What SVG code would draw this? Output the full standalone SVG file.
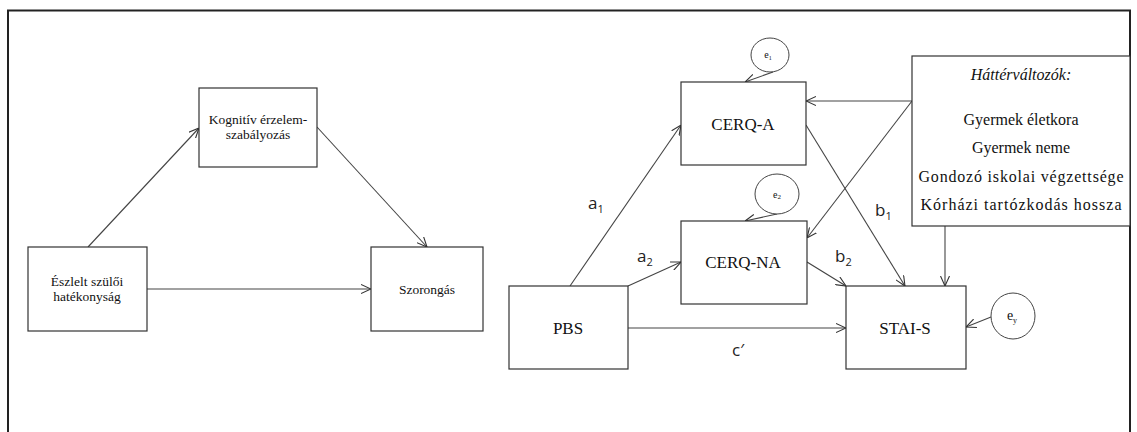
<svg xmlns="http://www.w3.org/2000/svg" width="1137" height="432" viewBox="0 0 1137 432">
  <defs>
    <marker id="arr" viewBox="0 0 10 10" refX="10" refY="5" markerWidth="10" markerHeight="10" markerUnits="userSpaceOnUse" orient="auto">
      <path d="M0,0.5 L10,5 L0,9.5" fill="none" stroke="#333" stroke-width="1.1"/>
    </marker>
  </defs>
  <style>
    .box { fill: #fff; stroke: #333; stroke-width: 1.2; }
    .err { fill: #fff; stroke: #444; stroke-width: 1; }
    .edge { fill: none; stroke: #444; stroke-width: 1.1; marker-end: url(#arr); }
    .t { fill: #111; text-anchor: middle; }
    .s { font-size: 13.5px; }
    .m { font-size: 17px; }
    .h { font-size: 16px; }
    .lab { font-size: 17px; fill: #222; }
    .sub { font-size: 11px; }
  </style>

  <rect x="0" y="0" width="1137" height="432" fill="#fff"/>
  <!-- outer frame -->
  <rect x="8" y="10.5" width="1122" height="440" fill="none" stroke="#222" stroke-width="2"/>

  <!-- connectors -->
  <g id="connectors">
    <!-- simple mediation model -->
    <line class="edge" x1="88" y1="247" x2="199" y2="128"/>
    <line class="edge" x1="317" y1="127" x2="427" y2="247"/>
    <line class="edge" x1="147" y1="289" x2="371" y2="289"/>
    <!-- parallel mediation model -->
    <line class="edge" x1="570" y1="286" x2="681" y2="125"/>
    <line class="edge" x1="628" y1="286" x2="681" y2="262"/>
    <line class="edge" x1="628" y1="328" x2="846" y2="328"/>
    <line class="edge" x1="806" y1="125" x2="905" y2="286"/>
    <line class="edge" x1="807" y1="262" x2="846" y2="286"/>
    <line class="edge" x1="912" y1="101" x2="806" y2="101"/>
    <line class="edge" x1="912" y1="101" x2="807" y2="238"/>
    <line class="edge" x1="945" y1="226" x2="945" y2="286"/>
    <!-- residual terms -->
    <path class="edge" d="M773,72 L745,82"/>
    <path class="edge" d="M777,214 L745,221"/>
    <path class="edge" d="M991,317 L966,327"/>
    <!-- path labels -->
    <g font-family="'Open Sans', 'DejaVu Sans', sans-serif">
      <text class="lab" x="588" y="209">a<tspan class="sub" dy="4">1</tspan></text>
      <text class="lab" x="637" y="262">a<tspan class="sub" dy="4">2</tspan></text>
      <text class="lab" x="875" y="216">b<tspan class="sub" dy="4">1</tspan></text>
      <text class="lab" x="835" y="262">b<tspan class="sub" dy="4">2</tspan></text>
      <text class="lab" x="732" y="356">c′</text>
    </g>
  </g>

  <g font-family="'Liberation Serif', 'DejaVu Serif', serif">
    <!-- left model nodes -->
    <g id="kognitiv">
      <rect class="box" x="199" y="88" width="118" height="79"/>
      <text class="t s" x="258" y="124">Kognitív érzelem-</text>
      <text class="t s" x="258" y="139">szabályozás</text>
    </g>
    <g id="eszlelt">
      <rect class="box" x="28" y="247" width="119" height="84"/>
      <text class="t s" x="87" y="286">Észlelt szülői</text>
      <text class="t s" x="87" y="301">hatékonyság</text>
    </g>
    <g id="szorongas">
      <rect class="box" x="371" y="247" width="112" height="84"/>
      <text class="t s" x="427" y="294">Szorongás</text>
    </g>

    <!-- right model nodes -->
    <g id="cerq-a">
      <rect class="box" x="681" y="82" width="125" height="83"/>
      <text class="t m" x="743" y="130">CERQ-A</text>
    </g>
    <g id="cerq-na">
      <rect class="box" x="681" y="221" width="126" height="83"/>
      <text class="t m" x="743" y="268">CERQ-NA</text>
    </g>
    <g id="pbs">
      <rect class="box" x="509" y="286" width="119" height="83"/>
      <text class="t m" x="568" y="334">PBS</text>
    </g>
    <g id="stai-s">
      <rect class="box" x="846" y="286" width="120" height="83"/>
      <text class="t m" x="905" y="334">STAI-S</text>
    </g>
    <g id="hattervaltozok">
      <rect class="box" x="912" y="56" width="218" height="170"/>
      <text class="t h" x="1021" y="80" font-style="italic">Háttérváltozók:</text>
      <text class="t h" x="1021" y="125">Gyermek életkora</text>
      <text class="t h" x="1021" y="153">Gyermek neme</text>
      <text class="t h" x="1021" y="182" textLength="205" lengthAdjust="spacing">Gondozó iskolai végzettsége</text>
      <text class="t h" x="1021" y="210" textLength="201" lengthAdjust="spacing">Kórházi tartózkodás hossza</text>
    </g>
    <g id="e1">
      <ellipse class="err" cx="770" cy="55" rx="19" ry="17"/>
      <text class="t" x="768" y="58" font-size="10">e<tspan font-size="6" dy="2">1</tspan></text>
    </g>
    <g id="e2">
      <ellipse class="err" cx="777" cy="194" rx="22" ry="20"/>
      <text class="t" x="777" y="198" font-size="10">e<tspan font-size="7" dy="1">2</tspan></text>
    </g>
    <g id="ey">
      <ellipse class="err" cx="1013" cy="316" rx="22" ry="23"/>
      <text class="t" x="1012" y="320" font-size="14">e<tspan font-size="8" dy="3">y</tspan></text>
    </g>
  </g>
</svg>
